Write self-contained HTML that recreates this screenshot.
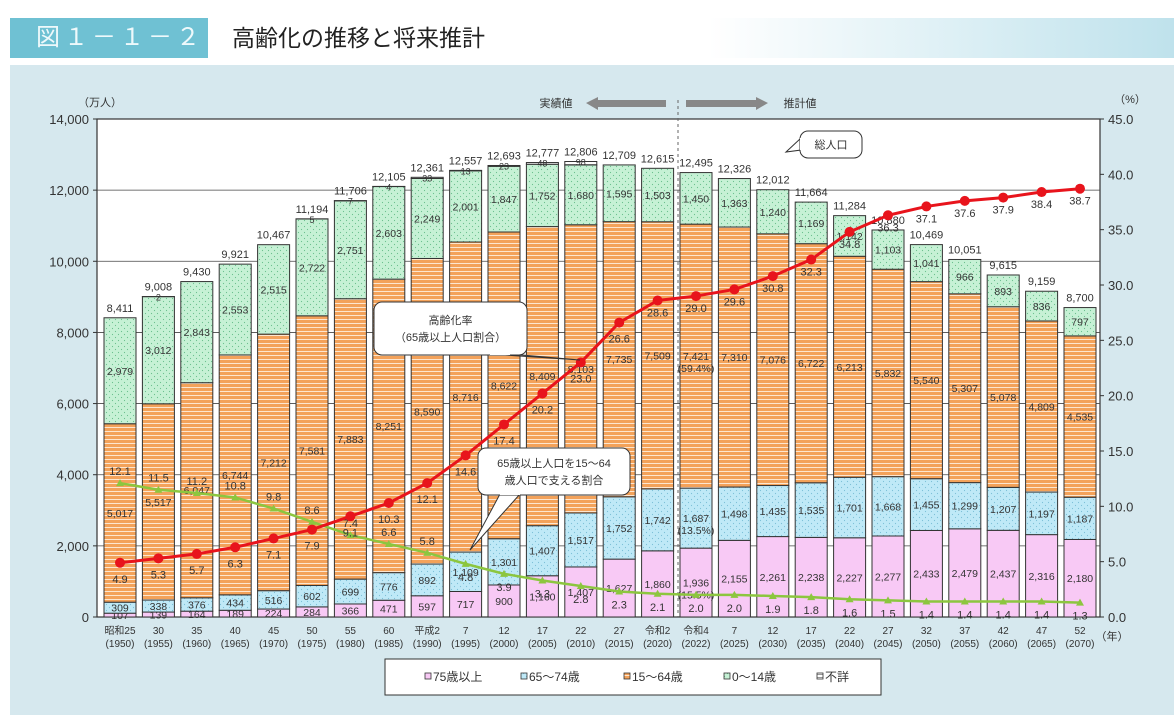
<!DOCTYPE html>
<html><head><meta charset="utf-8">
<style>
body{margin:0;width:1174px;height:715px;overflow:hidden;background:#fff;font-family:"Liberation Sans","Noto Sans CJK JP",sans-serif;}
#hdr{position:absolute;left:10px;top:18px;width:1164px;height:40px;background:linear-gradient(90deg,#fff 0%,#fff 60%,#bfe2ec 100%);}
#tag{position:absolute;left:0;top:0;width:198px;height:40px;background:#6fc1d3;color:#eef9fb;font-size:24px;line-height:40px;text-indent:26px;letter-spacing:4px;}
#ttl{position:absolute;left:222px;top:0;font-size:23px;line-height:40px;color:#222;}
#panel{position:absolute;left:10px;top:65px;width:1164px;height:650px;background:#d6e8ee;}
svg{position:absolute;left:0;top:0;}
text{font-family:"Liberation Sans","Noto Sans CJK JP",sans-serif;}
</style></head><body>
<div id="hdr"><div id="tag">図１－１－２</div><div id="ttl">高齢化の推移と将来推計</div></div>
<div id="panel"></div>
<svg id="chart" width="1174" height="715">
<defs>
<pattern id="pOr" width="6" height="4" patternUnits="userSpaceOnUse"><rect width="6" height="4" fill="#f3a25a"/><rect y="3" width="6" height="1" fill="#fde6cf"/></pattern>
<pattern id="pBl" width="6" height="6" patternUnits="userSpaceOnUse"><rect width="6" height="6" fill="#bfe9f7"/><circle cx="1.5" cy="1.5" r="0.6" fill="#7cc0d8"/><circle cx="4.5" cy="4.5" r="0.6" fill="#7cc0d8"/></pattern>
<pattern id="pGr" width="6" height="6" patternUnits="userSpaceOnUse"><rect width="6" height="6" fill="#c6f1d5"/><circle cx="1.5" cy="1.5" r="0.6" fill="#6cc08e"/><circle cx="4.5" cy="4.5" r="0.6" fill="#6cc08e"/></pattern>
<pattern id="pPk" width="6" height="6" patternUnits="userSpaceOnUse"><rect width="6" height="6" fill="#f8c9f5"/></pattern>
<pattern id="pUn" width="6" height="3" patternUnits="userSpaceOnUse"><rect width="6" height="3" fill="#fff"/><rect y="2" width="6" height="1" fill="#999"/></pattern>
</defs>
<g id="g"></g>
</svg>
<script>
const years=["昭和25","30","35","40","45","50","55","60","平成2","7","12","17","22","27","令和2","令和4","7","12","17","22","27","32","37","42","47","52"];
const westYears=["1950","1955","1960","1965","1970","1975","1980","1985","1990","1995","2000","2005","2010","2015","2020","2022","2025","2030","2035","2040","2045","2050","2055","2060","2065","2070"];
const age75=[107,139,164,189,224,284,366,471,597,717,900,1160,1407,1627,1860,1936,2155,2261,2238,2227,2277,2433,2479,2437,2316,2180];
const age65=[309,338,376,434,516,602,699,776,892,1109,1301,1407,1517,1752,1742,1687,1498,1435,1535,1701,1668,1455,1299,1207,1197,1187];
const age15=[5017,5517,6047,6744,7212,7581,7883,8251,8590,8716,8622,8409,8103,7735,7509,7421,7310,7076,6722,6213,5832,5540,5307,5078,4809,4535];
const age0=[2979,3012,2843,2553,2515,2722,2751,2603,2249,2001,1847,1752,1680,1595,1503,1450,1363,1240,1169,1142,1103,1041,966,893,836,797];
const unknown=[0,2,0,0,0,5,7,4,33,13,23,48,98,0,0,0,0,0,0,0,0,0,0,0,0,0];
const totals=[8411,9008,9430,9921,10467,11194,11706,12105,12361,12557,12693,12777,12806,12709,12615,12495,12326,12012,11664,11284,10880,10469,10051,9615,9159,8700];
const agingRate=[4.9,5.3,5.7,6.3,7.1,7.9,9.1,10.3,12.1,14.6,17.4,20.2,23.0,26.6,28.6,29.0,29.6,30.8,32.3,34.8,36.3,37.1,37.6,37.9,38.4,38.7];
const supportRatio=[12.1,11.5,11.2,10.8,9.8,8.6,7.4,6.6,5.8,4.8,3.9,3.3,2.8,2.3,2.1,2.0,2.0,1.9,1.8,1.6,1.5,1.4,1.4,1.4,1.4,1.3];
const leftTicks=[0,2000,4000,6000,8000,10000,12000,14000];
const rightTicks=[0,5,10,15,20,25,30,35,40,45];

const NS="http://www.w3.org/2000/svg",G=document.getElementById('g');
const L=97,R=1100,T=119,B=617;
const y=v=>B-(v/14000)*(B-T);
const yr=v=>B-(v/45)*(B-T);
const x=i=>120+i*((1080-120)/(years.length-1));
const BW=32;
const fmt=n=>n.toLocaleString('en-US');
function mk(tag,at,parent){const e=document.createElementNS(NS,tag);for(const k in at)e.setAttribute(k,at[k]);(parent||G).appendChild(e);return e;}
function tx(s,X,Y,at){const e=mk('text',Object.assign({x:X,y:Y,'font-size':11,fill:'#333','text-anchor':'middle'},at||{}));e.textContent=s;return e;}

const bg=mk('rect',{x:L,y:T,width:R-L,height:B-T,fill:'#fff',stroke:'#333','stroke-width':1.2});


leftTicks.forEach(v=>{
  if(v>0&&v<14000){const gl=mk('line',{x1:L,x2:R,y1:y(v),y2:y(v),stroke:'#444','stroke-width':0.8});
  
  }
  const t=tx(fmt(v),L-8,y(v)+5,{'text-anchor':'end','font-size':13});
  
  
  mk('line',{x1:L-4,x2:L,y1:y(v),y2:y(v),stroke:'#333'});
});
rightTicks.forEach(v=>{
  const t=tx(v.toFixed(1),R+8,yr(v)+5,{'text-anchor':'start','font-size':13});
  
  
  mk('line',{x1:R,x2:R+4,y1:yr(v),y2:yr(v),stroke:'#333'});
});
const u1=tx('（万人）',100,106,{'font-size':11});


const u2=tx('（%）',1130,103,{'font-size':11});


const u3=tx('（年）',1112,640,{'font-size':11});



const segs=[[age75,'pPk','bar-75-over'],[age65,'pBl','bar-65-74'],[age15,'pOr','bar-15-64'],[age0,'pGr','bar-0-14'],[unknown,'pUn','bar-unknown']];
years.forEach((yy,i)=>{
  let acc=0;const cx=x(i);
  segs.forEach(([arr,pat,name],k)=>{
    const v=arr[i];if(v<=0)return;
    const y0=y(acc),y1=y(acc+v);
    const r=mk('rect',{x:cx-BW/2,y:y1,width:BW,height:y0-y1,fill:'url(#'+pat+')',stroke:'#333','stroke-width':1});
    
    
    let ly=(y0+y1)/2+4;
    if(k===4) ly=y1+4;
    const lab=tx(fmt(v),cx,ly,{'font-size':k===4?9:10.5});
    
    
    acc+=v;
  });
  const tl=tx(fmt(totals[i]),cx,y(acc)-6,{'font-size':11});
  
  
  const a=tx(yy,cx,634,{'font-size':10});
  
  
  const b=tx('('+westYears[i]+')',cx,647,{'font-size':10});
  
  
});
[[age15,'(59.4%)'],[age65,'(13.5%)'],[age75,'(15.5%)']].forEach(([arr,s])=>{
  const i=15;let acc=0;for(const a of [age75,age65,age15]){if(a===arr)break;acc+=a[i];}
  const t=tx(s,x(i),(y(acc)+y(acc+arr[i]))/2+16,{'font-size':10.5});
  
  
});

mk('line',{x1:678,x2:678,y1:100,y2:B,stroke:'#666','stroke-dasharray':'3,3'});
mk('polygon',{points:'586,103 598,97 598,100 666,100 666,107 598,107 598,110',fill:'#888'});
mk('polygon',{points:'768,103 756,97 756,100 686,100 686,107 756,107 756,110',fill:'#888'});
tx('実績値',556,107,{'font-size':11});
tx('推計値',800,107,{'font-size':11});

function series(arr,color,name,labelFn,mr){
  const pts=arr.map((v,i)=>x(i)+','+yr(v)).join(' ');
  const pl=mk('polyline',{points:pts,fill:'none',stroke:color,'stroke-width':mr?3:2.5});
  
  
  arr.forEach((v,i)=>{
    let m;
    if(mr) m=mk('circle',{cx:x(i),cy:yr(v),r:5,fill:color});
    else m=mk('polygon',{points:`${x(i)},${yr(v)-4} ${x(i)-4},${yr(v)+3} ${x(i)+4},${yr(v)+3}`,fill:color});
    
    
    const t=tx(v.toFixed(1),x(i),yr(v)+labelFn(i),{'font-size':11});
    
    
  });
}
series(supportRatio,'#8cc63f','support-ratio',i=>i<9?-8:17,false);
series(agingRate,'#e8141c','aging-rate',i=>i<14?20:16,true);

function callout(x0,y0,w,h,tail,lines,name){
  const g=mk('g',{});
  
  
  mk('path',{d:`M${tail[0]} ${tail[1]} L${tail[2]} ${tail[3]} L${tail[4]} ${tail[5]} Z`,fill:'#fff',stroke:'#333'},g);
  mk('rect',{x:x0,y:y0,width:w,height:h,rx:8,fill:'#fff',stroke:'#333'},g);
  mk('line',{x1:tail[2],y1:tail[3],x2:tail[4],y2:tail[5],stroke:'#fff','stroke-width':2},g);
  lines.forEach((s,k)=>{const t=tx(s,x0+w/2,y0+h/2+4+(k-(lines.length-1)/2)*17,{'font-size':11});g.appendChild(t);});
}
callout(800,131,62,27,[786,152,801,138,801,150],['総人口'],'total-population-callout');
callout(374,302,153,53,[580,360,490,354,510,354],['高齢化率','（65歳以上人口割合）'],'aging-rate-callout');
callout(478,448,152,47,[470,550,500,494,520,494],['65歳以上人口を15～64','歳人口で支える割合'],'support-ratio-callout');

const lg=mk('g',{});


mk('rect',{x:385,y:659,width:496,height:36,fill:'#fff',stroke:'#333'},lg);
[['75歳以上',425,'pPk'],['65～74歳',521,'pBl'],['15～64歳',624,'pOr'],['0～14歳',724,'pGr'],['不詳',817,'pUn']].forEach(([s,lx,p])=>{
  const e=mk('g',{},lg);
  
  
  mk('rect',{x:lx,y:673,width:6,height:6,fill:'url(#'+p+')',stroke:'#333','stroke-width':0.8},e);
  const t=tx(s,lx+8,681,{'text-anchor':'start','font-size':12});e.appendChild(t);
});
</script>
</body></html>
